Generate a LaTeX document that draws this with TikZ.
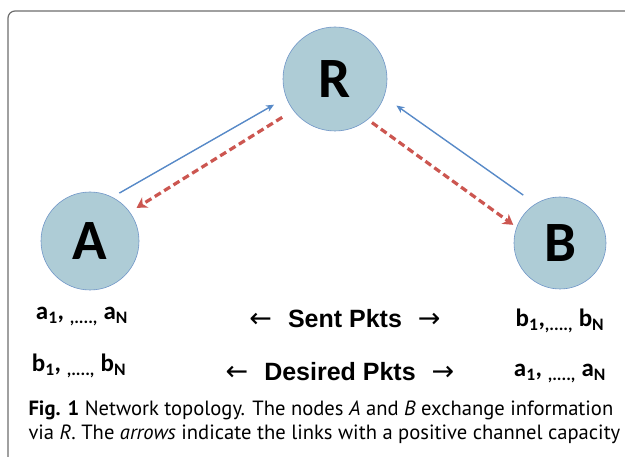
\documentclass[tikz,border=0pt]{standalone}
\usepackage{fontspec}
\setmainfont{PT Sans}
\newfontfamily\calfont{Carlito}
\newfontfamily\arialfont{Liberation Sans}
\newfontfamily\arrowfont{DejaVu Sans}
\usetikzlibrary{positioning, arrows.meta}
\definecolor{nodefill}{RGB}{174,204,214}
\definecolor{nodeedge}{RGB}{112,150,200}
\definecolor{linkblue}{RGB}{88,138,200}
\definecolor{linkred}{RGB}{204,86,80}
\definecolor{framegray}{RGB}{110,110,110}
\newcommand{\lft}{{\arrowfont\mdseries\fontsize{27}{27}\selectfont ←}\hspace{16pt}}
\newcommand{\rgt}{\hspace{16pt}{\arrowfont\mdseries\fontsize{27}{27}\selectfont →}}

\begin{document}
\begin{tikzpicture}[x=1pt, y=-1pt, on grid,
  station/.style={circle, draw=nodeedge, fill=nodefill, line width=0.6pt, inner sep=0pt,
    font=\calfont\bfseries\fontsize{57}{57}\selectfont},
  link/.style={draw=linkblue, line width=1.4pt, -{Stealth[length=8pt, width=7pt]}},
  backlink/.style={draw=linkred, line width=3.2pt, dash pattern=on 7pt off 4pt,
    -{Stealth[length=10pt, width=12pt, inset=3pt]}},
  pkts/.style={anchor=base, font=\calfont\bfseries\fontsize{25}{25}\selectfont},
  flow/.style={anchor=base, font=\arialfont\bfseries\fontsize{25}{25}\selectfont},
  captext/.style={anchor=base west, font=\fontsize{20.6}{24}\selectfont}]
  \fill[white] (0,0) rectangle (625,457);
  \useasboundingbox (0,0) rectangle (625,457);
  \draw[framegray, line width=1.2pt, rounded corners=7pt] (8,457) -- (8,11) -- (625,11);

  \node[station, minimum size=104pt] (R) at (335,79) {R};
  \node[station, minimum size=98pt] (A) [below left=162pt and 245pt of R] {A};
  \node[station, minimum size=92pt] (B) [below right=164pt and 225pt of R] {B};

  \draw[link, shorten <=8pt, shorten >=14pt] (A.63) -- (R.201);
  \draw[backlink, shorten <=13pt, shorten >=8pt] (R.217) -- (A.36);
  \draw[link, shorten <=15pt, shorten >=15pt] (B.122) -- (R.340);
  \draw[backlink, shorten <=5pt, shorten >=4pt] (R.309) -- (B.160);

  \node[pkts] (aSent) at (82,320) {a\textsubscript{1}, \textsubscript{,....,} a\textsubscript{N}};
  \node[pkts] (bWant) at (79,372) {b\textsubscript{1}, \textsubscript{,....,} b\textsubscript{N}};
  \node[pkts] (bSent) at (560,327) {b\textsubscript{1},\textsubscript{,....,} b\textsubscript{N}};
  \node[pkts] (aWant) at (560,377) {a\textsubscript{1}, \textsubscript{,....,} a\textsubscript{N}};
  \node[flow] (sent) at (345,328) {\lft Sent Pkts\rgt};
  \node[flow] (want) at (340,381) {\lft Desired Pkts\rgt};

  \node[captext] (cap1) at (25,416) {\textbf{Fig. 1} Network topology. The nodes \textit{A} and \textit{B} exchange information};
  \node[captext] (cap2) at (25,440) {via \textit{R}. The \textit{arrows} indicate the links with a positive channel capacity};
\end{tikzpicture}
\end{document}
